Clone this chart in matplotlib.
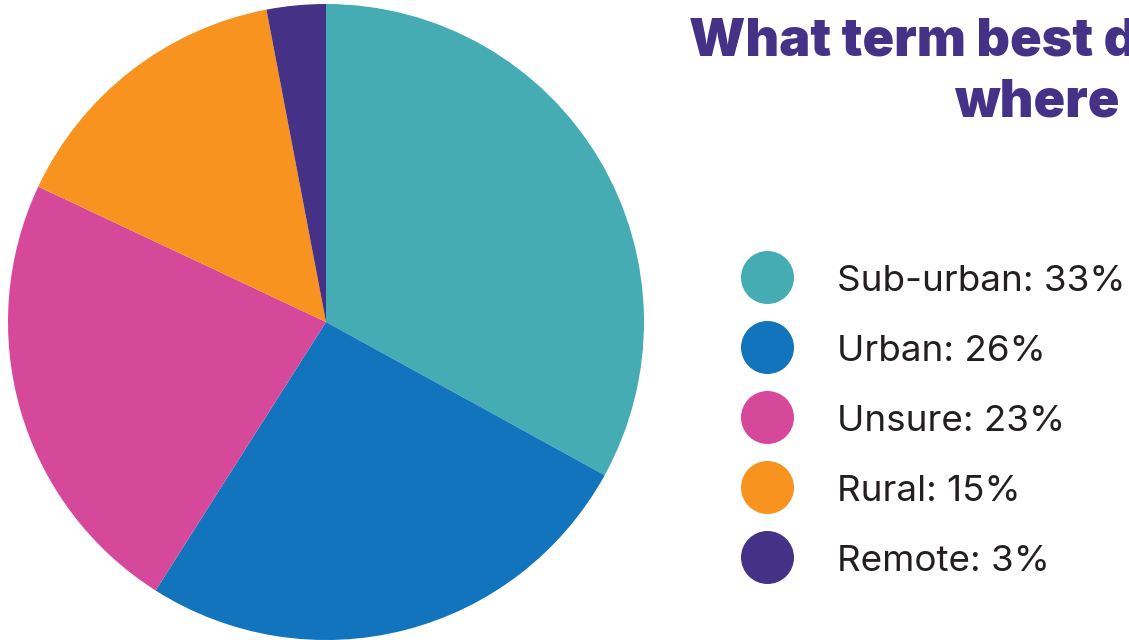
from matplotlib import pyplot as plt

labels = ["Sub-urban", "Urban", "Unsure", "Rural", "Remote"]
shares = [33, 26, 23, 15, 3]
colors = ["#45ACB4", "#1174BC", "#D6499A", "#F7931E", "#453185"]
title_lines = ["What term best describes the area", "where you live?"]

W, H = 1129, 640
fig = plt.figure(figsize=(W / 100, H / 100), dpi=100)

# pie, centre at (326, 322) px, radius 318 px
cx, cy, r = 326, 322, 318
ax = fig.add_axes([(cx - r) / W, (H - cy - r) / H, 2 * r / W, 2 * r / H])
ax.pie(shares, colors=colors, startangle=90, counterclock=False,
       radius=1, wedgeprops=dict(linewidth=0))
ax.set_aspect("equal")
ax.set_xlim(-1, 1)
ax.set_ylim(-1, 1)
ax.axis("off")

# legend drawn in a pixel-space overlay
lax = fig.add_axes([0, 0, 1, 1])
lax.set_xlim(0, W)
lax.set_ylim(H, 0)
lax.axis("off")
lax.patch.set_alpha(0)
for i, (lab, val, col) in enumerate(zip(labels, shares, colors)):
    y = 277 + i * 70
    lax.scatter([767], [y], s=(53 * 0.72) ** 2, color=col, linewidths=0)
    lax.text(837, y + 14, "%s: %d%%" % (lab, val), fontsize=26.5, family="Inter",
             color="#231F20", va="baseline", ha="left")

# title runs off the right edge like in the original
for x, y, line in zip([689, 954], [55, 117], title_lines):
    lax.text(x, y, line, fontsize=37.5, family="Inter", fontweight="black",
             color="#453185", ha="left", va="baseline", clip_on=False)

fig.savefig("out.png", dpi=100)
